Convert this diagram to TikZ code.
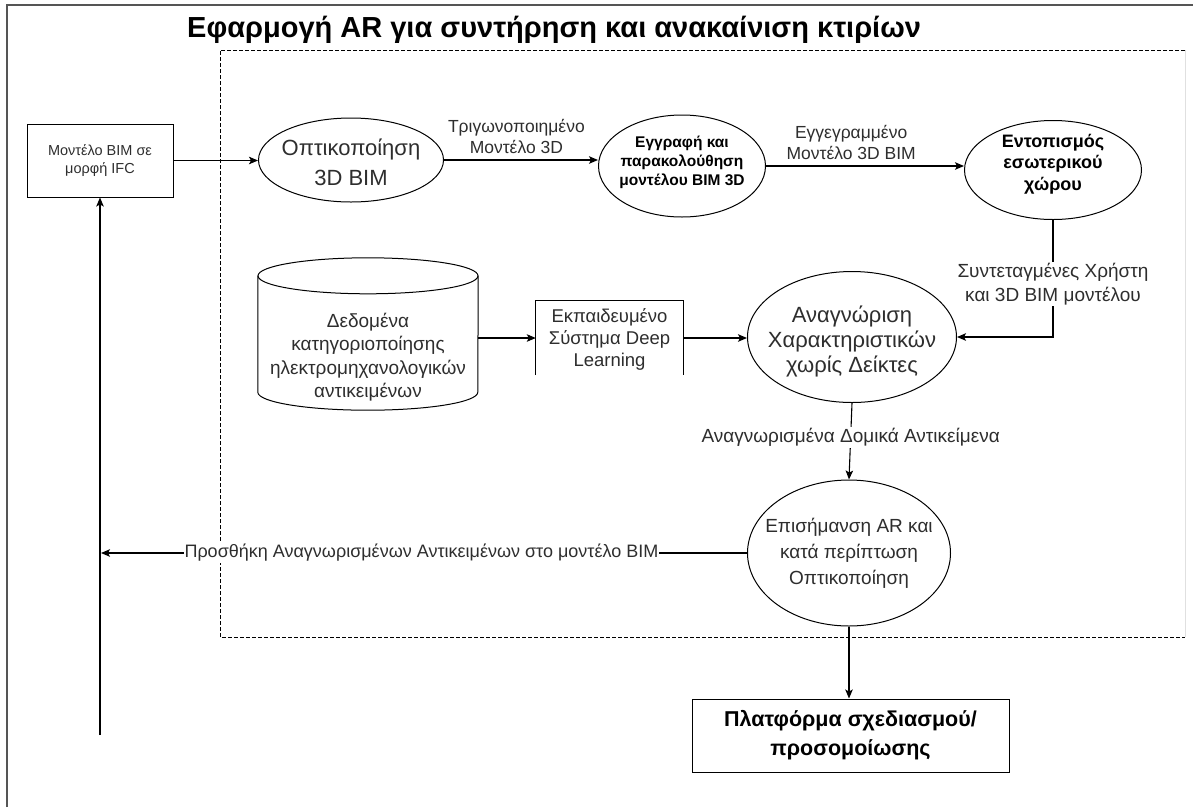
\documentclass[tikz,border=0pt]{standalone}
\usepackage{fontspec}
\setmainfont{Liberation Sans}
\usetikzlibrary{arrows.meta,shapes.geometric,calc}
\definecolor{txt}{HTML}{2E2E2E}
\definecolor{frame}{HTML}{555555}
\newcommand\myfs[2]{\fontsize{#1}{#2}\selectfont}
\begin{document}
\begin{tikzpicture}[x=1pt,y=-1pt,
  ell/.style={ellipse, draw, line width=1pt, inner sep=0pt},
  box/.style={rectangle, draw, line width=1pt},
  ln/.style={line width=1.1pt},
  arr/.style={line width=1.1pt, -{Stealth[length=9pt,width=7.5pt,inset=2pt]}},
  lbl/.style={text=txt, align=center, font=\myfs{17.5}{21}, inner sep=1pt},
  big/.style={text=txt, align=center, font=\myfs{22}{25}},
  bld/.style={text=black, align=center, font=\bfseries\myfs{16}{19}}
]
\useasboundingbox (0,0) rectangle (1203,807);
\fill[white] (0,0) rectangle (1203,807);
% outer frame
\draw[frame, line width=1.6pt] (7,807) -- (7,5) -- (1193,5);
% dashed frame
\draw[black!12, line width=0.8pt] (1185,50) -- (1185,637);
\draw[line width=0.9pt, dash pattern=on 4pt off 2pt] (1185,50) -- (220,50) -- (220,637) -- (1185,637);
% title
\node[anchor=base west, font=\bfseries\myfs{29}{32}, inner sep=0] (title) at (187,37) {Εφαρμογή AR για συντήρηση και ανακαίνιση κτιρίων};
% IFC box
\node[box, minimum width=146pt, minimum height=73pt, text=txt, align=center, font=\myfs{14.5}{18}] (ifc) at (100,160.5) {Μοντέλο BIM σε\\μορφή IFC};
% ellipses
\node[ell, minimum width=185pt, minimum height=84pt] (e1) at (351,160) {};
\node[big, font=\myfs{22}{30}] (e1t) at (351,162) {Οπτικοποίηση\\3D BIM};
\node[ell, minimum width=167pt, minimum height=102pt] (e2) at (682,166) {};
\node[bld, font=\bfseries\myfs{15.5}{19}] (e2t) at (682,162) {Εγγραφή και\\παρακολούθηση\\μοντέλου BIM 3D};
\node[ell, minimum width=177pt, minimum height=99pt] (e3) at (1053,170) {};
\node[bld, font=\bfseries\myfs{18}{21.5}] (e3t) at (1053,164) {Εντοπισμός\\εσωτερικού\\χώρου};
% cylinder
\node[minimum width=220pt, minimum height=152pt, inner sep=0] (cyl) at (368,334) {};
\draw[line width=1pt] ($(cyl.north)+(0,18)$) ellipse [x radius=110pt, y radius=18pt];
\draw[line width=1pt] ($(cyl.north west)+(0,18)$) -- ($(cyl.south west)+(0,-18)$) arc[start angle=180, end angle=360, x radius=110pt, y radius=18pt] -- ($(cyl.north east)+(0,18)$);
\node[lbl, font=\myfs{19}{23.5}] (cylt) at (368,357) {Δεδομένα\\κατηγοριοποίησης\\ηλεκτρομηχανολογικών\\αντικειμένων};
% deep learning box (open bottom)
\node[minimum width=147pt, minimum height=74pt, inner sep=0] (dl) at (609.5,338) {};
\draw[line width=1pt] (dl.south west) -- (dl.north west) -- (dl.north east) -- (dl.south east);
\node[lbl, font=\myfs{18.5}{22}] (dlt) at (609.5,339) {Εκπαιδευμένο\\Σύστημα Deep\\Learning};
% recognition ellipse
\node[ell, minimum width=209pt, minimum height=131pt] (e4) at (852,337) {};
\node[big] (e4t) at (852,341) {Αναγνώριση\\Χαρακτηριστικών\\χωρίς Δείκτες};
% AR ellipse
\node[ell, minimum width=203pt, minimum height=146pt] (e5) at (849,553) {};
\node[big, font=\myfs{19}{26}] (e5t) at (849,553) {Επισήμανση AR και\\κατά περίπτωση\\Οπτικοποίηση};
% platform box
\node[box, minimum width=317pt, minimum height=73pt, text=black, align=center, font=\bfseries\myfs{21.5}{29}] (plat) at (850.5,735.5) {Πλατφόρμα σχεδιασμού/\\προσομοίωσης};
% free ends
\coordinate (ret) at (101,553);
\coordinate (bot) at (100,735);
% connectors
\draw[arr] (ifc.east) -- (ifc.east -| e1.west);
\draw[arr] (e1.east) -- node[lbl, above=5pt, pos=0.47] {Τριγωνοποιημένο\\Μοντέλο 3D} (e1.east -| e2.west);
\draw[arr] (e2.east) -- node[lbl, above=5pt, pos=0.43] {Εγγεγραμμένο\\Μοντέλο 3D BIM} (e2.east -| e3.west);
\draw[arr] (e3.south) -- node[lbl, fill=white, pos=0.55, font=\myfs{19}{24}] {Συντεταγμένες Χρήστη\\και 3D BIM μοντέλου} (e3.south |- e4.east) -- (e4.east);
\draw[arr] (cyl.east |- dl.west) -- (dl.west);
\draw[arr] (dl.east) -- (dl.east -| e4.west);
\draw[arr] (e4.south) -- node[lbl, fill=white, pos=0.45, font=\myfs{19}{21}] {Αναγνωρισμένα Δομικά Αντικείμενα} (e5.north);
\draw[arr] (e5.west) -- node[lbl, fill=white, pos=0.504, font=\myfs{18}{21}] {Προσθήκη Αναγνωρισμένων Αντικειμένων στο μοντέλο BIM} (ret);
\draw[arr] (bot) -- (ifc.south);
\draw[arr] (e5.south) -- (e5.south |- plat.north);
\end{tikzpicture}
\end{document}
